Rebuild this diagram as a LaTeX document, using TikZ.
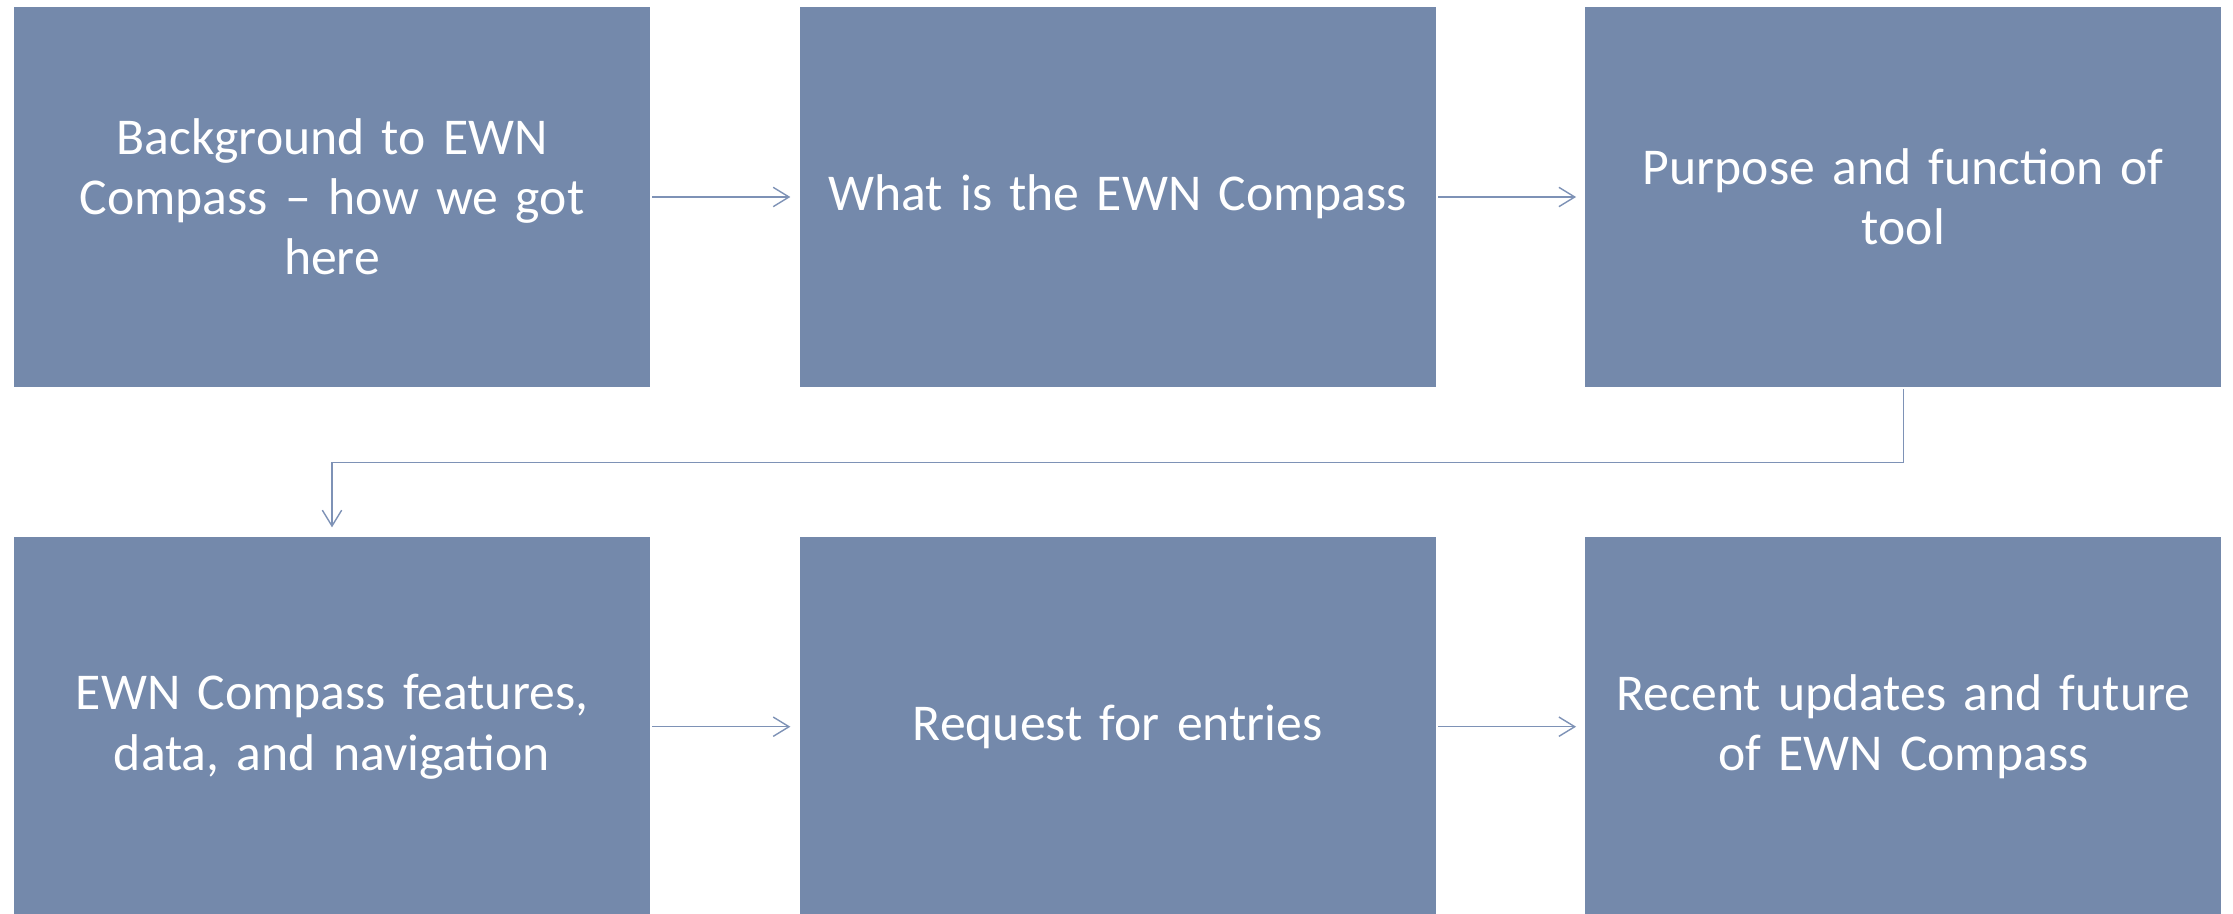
\documentclass[tikz,border=0pt]{standalone}
\usepackage{fontspec}
\setmainfont{Carlito}
\usepackage{tikz}
\usetikzlibrary{positioning}
\usetikzlibrary{arrows.meta}

\definecolor{boxblue}{RGB}{116,137,171}
\definecolor{linkblue}{RGB}{126,146,182}

\begin{document}
\begin{tikzpicture}

\tikzset{stepbox/.style={
		fill=boxblue,
		minimum width=12.72cm,
		minimum height=7.6cm,
		text width=12.2cm,
		align=center,
		inner sep=0pt,
		text=white,
		font=\fontsize{29.4pt}{34.2pt}\selectfont
	},
	link/.style={
		draw=linkblue,
		line width=0.8pt,
		-{Straight Barb[length=9pt,width=11pt,line width=0.8pt]},
		shorten <=0.04cm,
		shorten >=0.18cm
	}
}
\useasboundingbox (0,0) rectangle (44.66,-18.28);

\node[stepbox] (bg) at (6.64,-3.94) {Background to EWN\\Compass -- how we got\\here};
\node[stepbox, right=2.98cm of bg] (what) {What is the EWN Compass};
\node[stepbox, right=2.98cm of what] (purpose) {Purpose and function of\\tool};
\node[stepbox, below=2.98cm of bg] (features) {EWN Compass features,\\data, and navigation};
\node[stepbox, right=2.98cm of features] (request) {Request for entries};
\node[stepbox, right=2.98cm of request] (recent) {Recent updates and future\\of EWN Compass};

\draw[link] (bg) -- (what);
\draw[link] (what) -- (purpose);
\draw[link] (purpose.south) -- ++(0,-1.5) -| (features.north);
\draw[link] (features) -- (request);
\draw[link] (request) -- (recent);
\end{tikzpicture}
\end{document}
